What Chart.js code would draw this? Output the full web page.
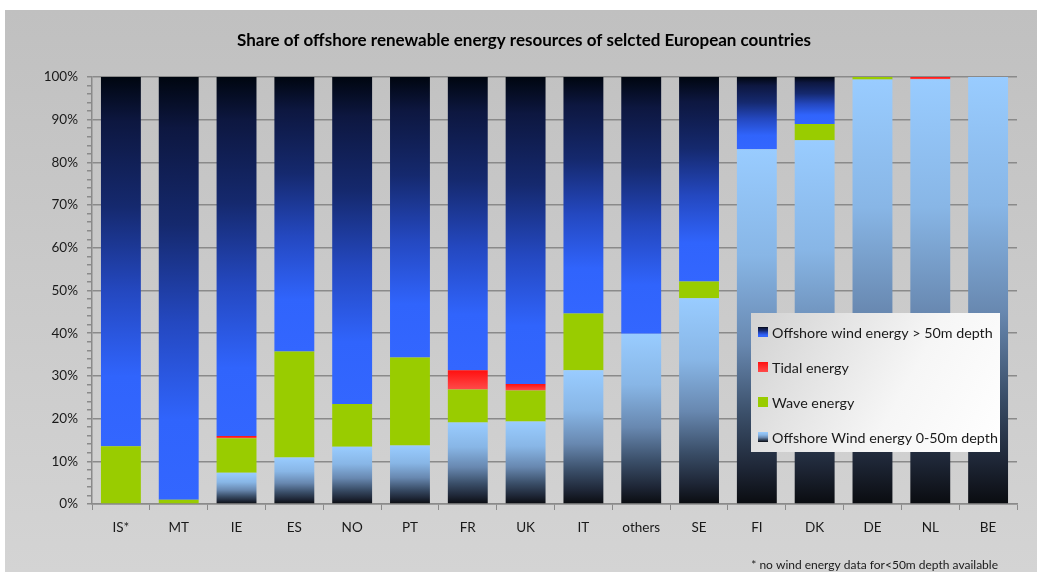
<!DOCTYPE html>
<html>
<head>
<meta charset="utf-8">
<script src="https://cdn.jsdelivr.net/npm/chart.js@4/dist/chart.umd.min.js"></script>
<style>
  html, body { margin: 0; padding: 0; background: #fff; }
  #wrap { width: 1043px; height: 572px; position: relative; }
</style>
</head>
<body>
<div id="wrap"><canvas id="shares"></canvas></div>
<script>
// values (percent of each country's total)
var countries = ['IS*', 'MT', 'IE', 'ES', 'NO', 'PT', 'FR', 'UK', 'IT', 'others', 'SE', 'FI', 'DK', 'DE', 'NL', 'BE'];
var wind_0_50 = [0, 0, 7.3, 10.9, 13.4, 13.7, 19.1, 19.3, 31.3, 39.9, 48.2, 83.1, 85.2, 99.4, 99.5, 100];
var wave = [13.5, 1.0, 8.1, 24.8, 10.0, 20.6, 7.7, 7.3, 13.3, 0, 3.9, 0, 3.8, 0.6, 0, 0];
var tidal = [0, 0, 0.5, 0, 0, 0, 4.5, 1.5, 0, 0, 0, 0, 0, 0, 0.5, 0];
var wind_over_50 = [86.5, 99.0, 84.1, 64.3, 76.6, 65.7, 68.7, 71.9, 55.4, 60.1, 47.9, 16.9, 11.0, 0, 0, 0];
var y_ticks = [0, 10, 20, 30, 40, 50, 60, 70, 80, 90, 100];

var chart_title = 'Share of offshore renewable energy resources of selcted European countries';
var footnote = '* no wind energy data for<50m depth available';

var series = [wind_0_50, wave, tidal, wind_over_50];

var stops_shallow = [[0, '#99ccff'], [0.3, '#88b6e6'], [0.55, '#6888b0'], [0.75, '#3a4e68'], [0.9, '#1e2636'], [1, '#0a0c10']];
var stops_deep = [[0, '#000610'], [0.12, '#0d1740'], [0.35, '#15296e'], [0.58, '#2448c0'], [0.81, '#3064fc'], [1, '#3366ff']];
var stops_tidal = [[0, '#ff1010'], [1, '#ff4a4a']];

function segment_fill(stops, fallback) {
    return function (ctx) {
        var chart = ctx.chart;
        if (!chart.chartArea || ctx.type !== 'data') return fallback;
        var i = ctx.dataIndex, d = ctx.datasetIndex;
        var base = 0;
        for (var k = 0; k < d; k++) base += series[k][i];
        var top = base + series[d][i];
        var y0 = chart.scales.y.getPixelForValue(top);
        var y1 = chart.scales.y.getPixelForValue(base);
        if (y1 - y0 < 1) return fallback;
        var g = chart.ctx.createLinearGradient(0, y0, 0, y1);
        stops.forEach(function (s) { g.addColorStop(s[0], s[1]); });
        return g;
    };
}

function swatch(ctx, stops, x, y, w, h) {
    var g = ctx.createLinearGradient(0, y, 0, y + h);
    stops.forEach(function (s) { g.addColorStop(s[0], s[1]); });
    ctx.fillStyle = g;
    ctx.fillRect(x, y, w, h);
}

var background = {
    id: 'background',
    beforeDraw: function (chart) {
        var c = chart.ctx;
        c.save();
        c.fillStyle = '#ffffff';
        c.fillRect(0, 0, chart.width, chart.height);
        var g = c.createLinearGradient(0, 10, 0, chart.height);
        g.addColorStop(0, '#c0c0c0');
        g.addColorStop(1, '#d4d4d4');
        c.fillStyle = g;
        c.fillRect(5, 10, 1032, chart.height - 10);
        c.restore();
    }
};

var extras = {
    id: 'extras',
    afterDraw: function (chart) {
        var c = chart.ctx;
        c.save();
        // title
        c.fillStyle = '#000';
        c.font = 'bold 17px Lato';
        c.textAlign = 'center';
        c.textBaseline = 'middle';
        c.fillText(chart_title, 524, 41);

        // legend box
        var lx = 751, ly = 313, lw = 249, lh = 139;
        var g = c.createLinearGradient(lx, ly, lx + lw, ly + lh);
        g.addColorStop(0, '#d2d2d2');
        g.addColorStop(0.6, '#f6f6f6');
        g.addColorStop(1, '#ffffff');
        c.fillStyle = g;
        c.fillRect(lx, ly, lw, lh);

        var rows = [
            [chart.data.datasets[3].label, stops_deep, 332],
            [chart.data.datasets[2].label, stops_tidal, 367],
            [chart.data.datasets[1].label, [[0, '#99cc00'], [1, '#99cc00']], 402],
            [chart.data.datasets[0].label, stops_shallow, 437]
        ];
        c.font = '14.3px Lato';
        c.textAlign = 'left';
        rows.forEach(function (r) {
            swatch(c, r[1], 758, r[2] - 5, 10, 10);
            c.fillStyle = '#1a1a1a';
            c.fillText(r[0], 772, r[2] + 1);
        });

        // footnote
        c.font = '12px Lato';
        c.fillStyle = '#1a1a1a';
        c.textAlign = 'right';
        c.fillText(footnote, 998, 565);
        c.restore();
    }
};

Chart.defaults.font.family = 'Lato';
Chart.defaults.color = '#1a1a1a';

new Chart(document.getElementById('shares').getContext('2d'), {
    type: 'bar',
    data: {
        labels: countries,
        datasets: [
            { label: 'Offshore Wind energy 0-50m depth', data: wind_0_50, backgroundColor: segment_fill(stops_shallow, '#99ccff') },
            { label: 'Wave energy', data: wave, backgroundColor: '#99cc00' },
            { label: 'Tidal energy', data: tidal, backgroundColor: segment_fill(stops_tidal, '#ff2020') },
            { label: 'Offshore wind energy > 50m depth', data: wind_over_50, backgroundColor: segment_fill(stops_deep, '#3366ff') }
        ]
    },
    options: {
        responsive: true,
        maintainAspectRatio: false,
        animation: false,
        layout: { padding: { left: 0, right: 26, top: 77, bottom: 0 } },
        datasets: { bar: { barPercentage: 0.69, categoryPercentage: 1, borderWidth: 0 } },
        plugins: {
            legend: { display: false },
            title: { display: false },
            tooltip: { enabled: false }
        },
        scales: {
            x: {
                stacked: true,
                afterFit: function (s) { s.height = 68; },
                grid: { drawOnChartArea: false, color: '#8a8a8a', tickLength: 6, offset: true },
                border: { color: '#8a8a8a', width: 1.5 },
                ticks: { font: { size: 13.5 }, color: '#1a1a1a', padding: 10 }
            },
            y: {
                stacked: true,
                min: 0,
                max: 100,
                afterFit: function (s) { s.width = 92; },
                afterBuildTicks: function (s) {
                    var t = [];
                    for (var v = 0; v <= 100; v += 2) t.push({ value: v });
                    s.ticks = t;
                },
                grid: {
                    color: function (ctx) {
                        return ctx.tick && y_ticks.indexOf(ctx.tick.value) >= 0 ? '#8a8a8a' : 'rgba(0,0,0,0)';
                    },
                    tickColor: '#8a8a8a',
                    tickLength: 5,
                    lineWidth: 1.5
                },
                border: { color: '#8a8a8a', width: 1.5 },
                ticks: {
                    autoSkip: false,
                    padding: 9,
                    font: { size: 13.5 },
                    color: '#1a1a1a',
                    callback: function (v) { return y_ticks.indexOf(v) >= 0 ? v + '%' : ''; }
                }
            }
        }
    },
    plugins: [background, extras]
});
</script>
</body>
</html>
